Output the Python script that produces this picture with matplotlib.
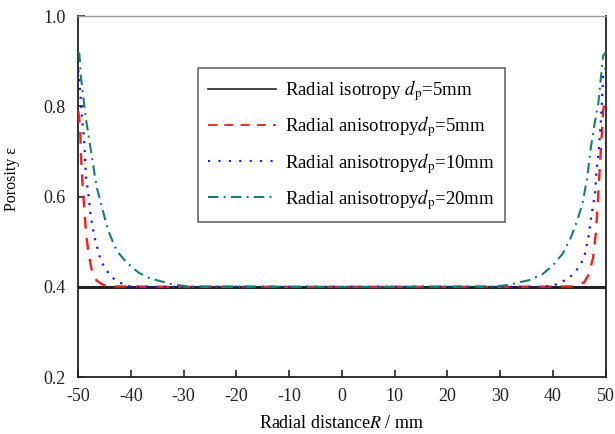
import matplotlib
matplotlib.use('Agg')
import matplotlib.pyplot as plt
from matplotlib.lines import Line2D

plt.rcParams['font.family'] = 'Liberation Serif'
plt.rcParams['mathtext.fontset'] = 'stix'

# Radial isotropy, dp = 5 mm
R_iso = [-50, 50]
eps_iso = [0.40, 0.40]

# Radial anisotropy, dp = 5 mm
R_d5 = [-50, -49.9, -49.6, -49.5, -49.2, -48.9, -48.5, -48.0, -47.4, -46.5, -45.5, -44.5,
        -30, 0, 30, 44.0, 45.9, 46.8, 47.6, 48.1, 48.4, 48.7, 49.2, 49.5, 49.8, 50]
eps_d5 = [0.79, 0.784, 0.749, 0.704, 0.633, 0.585, 0.518, 0.473, 0.436, 0.414, 0.406, 0.401,
          0.40, 0.40, 0.40, 0.401, 0.410, 0.428, 0.465, 0.518, 0.570, 0.630, 0.730, 0.790, 0.815, 0.82]

# Radial anisotropy, dp = 10 mm
R_d10 = [-50, -49.9, -49.6, -49.3, -48.9, -48.7, -48.5, -48.0, -47.6, -46.9, -46.3, -45.7,
         -44.7, -43.0, -40.8, -38.6, -20, 0, 20, 38.6, 40.8, 43.0, 44.9, 45.9, 46.7, 47.3,
         47.96, 48.2, 48.7, 49.05, 49.35, 49.5, 49.8, 50]
eps_d10 = [0.88, 0.875, 0.831, 0.778, 0.734, 0.689, 0.644, 0.600, 0.555, 0.510, 0.484, 0.458,
           0.437, 0.415, 0.402, 0.40, 0.40, 0.40, 0.40, 0.40, 0.406, 0.419, 0.443, 0.465, 0.510, 0.559,
           0.607, 0.652, 0.704, 0.764, 0.831, 0.868, 0.88, 0.885]

# Radial anisotropy, dp = 20 mm
R_d20 = [-50, -49.75, -49.5, -49.0, -48.5, -47.9, -47.2, -46.5, -45.5, -44.3, -42.7, -40.8,
         -38.6, -36.4, -34.2, -32.0, -29.0, 0, 29.0, 32.0, 33.6, 35.5, 38.0, 39.9, 41.8, 43.4,
         44.6, 45.6, 46.5, 47.2, 47.8, 48.6, 49.05, 49.5, 50]
eps_d20 = [0.92, 0.916, 0.868, 0.819, 0.771, 0.726, 0.674, 0.622, 0.577, 0.525, 0.480, 0.454,
           0.432, 0.419, 0.412, 0.405, 0.401, 0.40, 0.401, 0.405, 0.410, 0.415, 0.428, 0.447, 0.473, 0.510,
           0.547, 0.585, 0.644, 0.711, 0.756, 0.808, 0.860, 0.912, 0.92]

x_ticks = [-50, -40, -30, -20, -10, 0, 10, 20, 30, 40, 50]
x_ticklabels = ['-50', '-40', '-30', '-20', '-10', '0', '10', '20', '30', '40', '50']
y_ticks = [0.2, 0.4, 0.6, 0.8, 1.0]
y_ticklabels = ['0.2', '0.4', '0.6', '0.8', '1.0']

labels = [r'Radial isotropy $d_{\mathrm{p}}$=5mm',
          r'Radial anisotropy$d_{\mathrm{p}}$=5mm',
          r'Radial anisotropy$d_{\mathrm{p}}$=10mm',
          r'Radial anisotropy$d_{\mathrm{p}}$=20mm']

fig = plt.figure(figsize=(6.15, 4.34), dpi=100)
ax = fig.add_axes([0.127, 0.131, 0.858, 0.832])

ax.plot(R_iso, eps_iso, color='#222222', lw=2.2, zorder=2)
ax.plot(R_d5, eps_d5, color='#ff1a1a', lw=1.7, dashes=(5, 4), zorder=3)
ax.plot(R_d10, eps_d10, color='#1a1aff', lw=1.6, dashes=(1, 3), zorder=3)
ax.plot(R_d20, eps_d20, color='#118077', lw=1.5, dashes=(5, 2.5, 1, 2.5), zorder=3)

ax.set_xlim(-50, 50)
ax.set_ylim(0.2, 1.0)
ax.set_xticks(x_ticks)
ax.set_yticks(y_ticks)
ax.set_xticklabels(x_ticklabels)
ax.set_yticklabels(y_ticklabels)
ax.tick_params(direction='in', length=5, width=1.2, labelsize=13, colors='#222222',
               top=False, right=False)
ax.tick_params(axis='x', pad=8)
ax.tick_params(axis='y', pad=9)

for s in ['left', 'bottom', 'right']:
    ax.spines[s].set_color('#222222')
    ax.spines[s].set_linewidth(1.3)
ax.spines['top'].set_color('#9a9a9a')
ax.spines['top'].set_linewidth(1.0)

ax.set_ylabel('Porosity ε', fontsize=11.5)
ax.yaxis.set_label_coords(-0.11, 0.55)
ax.set_xlabel(r'Radial distance$\mathit{R}$ / mm', fontsize=13)
ax.xaxis.set_label_coords(0.5, -0.105)

handles = [Line2D([], [], color='#222222', lw=1.2),
           Line2D([], [], color='#ff1a1a', lw=1.3, dashes=(5, 4)),
           Line2D([], [], color='#1a1aff', lw=1.5, dashes=(1, 4)),
           Line2D([], [], color='#118077', lw=1.5, dashes=(5, 2.5, 1, 2.5))]
leg = ax.legend(handles, labels, loc='upper left', bbox_to_anchor=(0.227, 0.856),
                fontsize=13.5, frameon=True, fancybox=False, handlelength=3.6,
                handletextpad=0.5, labelspacing=0.6, borderpad=0.55, borderaxespad=0)
leg.get_frame().set_edgecolor('#333333')
leg.get_frame().set_linewidth(1.1)

fig.savefig('out.png', dpi=100)
